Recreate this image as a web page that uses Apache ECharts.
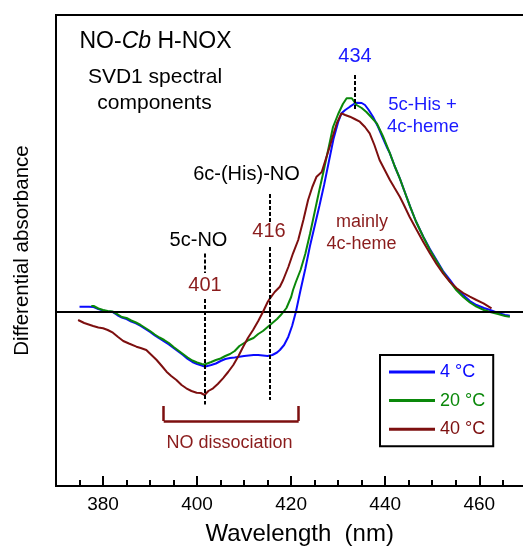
<!DOCTYPE html>
<html>
<head>
<meta charset="utf-8">
<script src="https://cdn.jsdelivr.net/npm/echarts@6/dist/echarts.min.js"></script>
<style>html,body{margin:0;padding:0;background:#fff;}#c{width:523px;height:546px;}</style>
</head>
<body>
<div id="c"></div>
<script>
// ---- data ----
const seriesNames = ['4 °C', '20 °C', '40 °C'];
const xTickLabels = [380, 400, 420, 440, 460];

const wl4 = [375,376,377,378,379,380,381,382,383,384,385,386,387,388,389,390,391,392,393,394,395,396,397,398,399,400,401,401.6,403,404,405,406,407,408,409,410,411,412,413,414,415,416,417,417.6,418.5,419.4,420.2,421,422,423,424,425,426,427,428,429,430,430.7,431.5,432.5,433.5,434,435,435.7,436.5,437.4,438.5,439.5,440.3,441,442,443.1,444,445.3,446.5,448.1,449.5,450.9,452.3,453.8,455,456.6,458,459.4,461,462.3,464,465.5,466.5];
const abs4 = [0.053,0.053,0.053,0.05,0.03,0.015,0.005,0.0,-0.03,-0.055,-0.07,-0.095,-0.113,-0.14,-0.17,-0.2,-0.235,-0.265,-0.295,-0.325,-0.36,-0.395,-0.43,-0.47,-0.5,-0.52,-0.535,-0.547,-0.53,-0.515,-0.49,-0.47,-0.46,-0.455,-0.447,-0.44,-0.435,-0.43,-0.43,-0.435,-0.44,-0.43,-0.405,-0.38,-0.33,-0.247,-0.14,0.0,0.22,0.43,0.66,0.86,1.06,1.27,1.5,1.73,1.9,1.987,2.02,2.053,2.085,2.093,2.09,2.07,2.02,1.953,1.85,1.74,1.653,1.587,1.46,1.337,1.22,1.053,0.91,0.753,0.63,0.52,0.41,0.32,0.24,0.17,0.11,0.07,0.04,0.02,-0.01,-0.03,-0.037];

const wl20 = [377.5,378,379,380,381,382,383,384,385,386,387,388,389,390,391,392,393,394,395,396,397,398,399,400,401,401.6,402,403,404,405,406,407,408,409,410,411,412,413,414,415,416,417,418,419,420,420.4,421,422,423,424,425,426,426.8,428,428.9,430,430.4,431,431.8,432.9,433.9,435,436,437,438.2,439.5,441,442,443.1,444,445.3,446.5,448.1,449.5,450.9,452.3,453.8,455,456.6,458,459.4,461,462.3,464,465.5,466.5];
const abs20 = [0.06,0.06,0.035,0.02,0.01,0.005,-0.02,-0.05,-0.06,-0.085,-0.105,-0.13,-0.16,-0.19,-0.225,-0.255,-0.28,-0.31,-0.35,-0.385,-0.42,-0.455,-0.485,-0.505,-0.52,-0.525,-0.505,-0.5,-0.48,-0.465,-0.44,-0.42,-0.39,-0.34,-0.31,-0.28,-0.26,-0.22,-0.19,-0.15,-0.11,-0.07,-0.02,0.04,0.15,0.22,0.3,0.42,0.58,0.78,1.0,1.22,1.387,1.65,1.85,1.98,2.0,2.08,2.137,2.137,2.07,2.04,2.0,1.95,1.887,1.76,1.587,1.46,1.337,1.22,1.053,0.91,0.75,0.62,0.51,0.4,0.3,0.225,0.15,0.095,0.053,0.02,0.0,-0.02,-0.04,-0.047];

const wl40 = [374.7,376,377.9,379,380,381,382.1,383.2,384.3,385.5,387.1,388,389.2,390.3,391.4,392.5,393.5,394.5,395.6,396.7,397.7,398.8,399.9,400.8,401.6,402.4,403.4,404.4,405.5,406.6,407.7,408.8,409.8,410.8,411.9,413,414,415,415.5,416.5,417.6,418.3,419.4,420.4,421.5,422.6,423.6,424.5,425.4,426.5,427.3,428.2,429,429.7,430.7,431.5,432.5,433.5,434.6,435.7,436.7,437.7,438.8,439.9,441,442,443.1,443.8,445.2,446.7,448.1,449.5,450.9,452.3,453.8,455.2,456.6,458,459.4,460.9,462.6];
const abs40 = [-0.08,-0.11,-0.14,-0.155,-0.163,-0.18,-0.207,-0.25,-0.29,-0.315,-0.347,-0.36,-0.38,-0.43,-0.48,-0.54,-0.597,-0.64,-0.68,-0.73,-0.763,-0.79,-0.807,-0.81,-0.83,-0.79,-0.763,-0.72,-0.663,-0.6,-0.53,-0.44,-0.347,-0.26,-0.18,-0.09,0.0,0.1,0.137,0.2,0.253,0.32,0.45,0.587,0.72,0.92,1.12,1.25,1.353,1.4,1.52,1.653,1.78,1.887,1.987,1.97,1.953,1.93,1.903,1.85,1.787,1.67,1.52,1.42,1.32,1.24,1.153,1.087,0.95,0.82,0.7,0.587,0.48,0.387,0.3,0.237,0.19,0.153,0.12,0.087,0.037];

// annotation positions (data units)
const peakMarks = [401.6, 415.5, 433.6];
const bracketX = [392.9, 421.6];

// ---- styling ----
const FONT = '"Liberation Sans", Arial, Helvetica, sans-serif';
const BLUE = '#0a0aff', GREEN = '#0a880a', RED = '#7d0f0f';
const TBLUE = '#1a1aff', TRED = '#8a1c1c';
const colors = [BLUE, GREEN, RED];

const zip = (xs, ys) => xs.map((x, i) => [x, ys[i]]);

const chart = echarts.init(document.getElementById('c'), null, {renderer: 'canvas'});

const dashStyle = {color: '#000', width: 2, type: [4, 2]};
function vseg(x, y1, y2, style) {
  return [{coord: [x, y1], lineStyle: style}, {coord: [x, y2]}];
}

function txt(text, x, y, size, color, extra) {
  return Object.assign({
    type: 'text', x: x, y: y, z: 50,
    style: {text: text, fill: color, font: size + 'px ' + FONT, align: 'center', verticalAlign: 'middle'}
  }, extra || {});
}

const gridBox = {left: 56, top: 15, width: 470.3, height: 471, outerBoundsMode: 'none', containLabel: false};

const option = {
  animation: false,
  backgroundColor: '#fff',
  grid: [
    Object.assign({show: true, borderColor: '#000', borderWidth: 2, backgroundColor: 'transparent'}, gridBox),
    Object.assign({show: false}, gridBox)
  ],
  xAxis: [{
    gridIndex: 0, type: 'value', min: 370, max: 470, interval: 5, position: 'bottom',
    axisLine: {show: true, onZero: false, lineStyle: {color: '#000', width: 2}},
    axisTick: {show: true, inside: true, length: 6, lineStyle: {color: '#000', width: 2}},
    axisLabel: {
      color: '#000', fontSize: 19, fontFamily: FONT, margin: 9,
      formatter: v => (xTickLabels.indexOf(v) >= 0 ? String(v) : '')
    },
    splitLine: {show: false},
    name: 'Wavelength  (nm)', nameLocation: 'middle', nameGap: 36,
    nameTextStyle: {color: '#000', fontSize: 24, fontFamily: FONT, padding: [0, 0, 0, 17]}
  }, {
    gridIndex: 1, type: 'value', min: 370, max: 470, position: 'bottom',
    axisLine: {show: false, onZero: false},
    axisTick: {show: true, inside: true, length: 10, customValues: xTickLabels, lineStyle: {color: '#000', width: 2}},
    axisLabel: {show: false},
    splitLine: {show: false}
  }],
  yAxis: [{
    gridIndex: 0, type: 'value', min: -1.74, max: 2.97,
    axisLine: {show: true, onZero: false, lineStyle: {color: '#000', width: 2}},
    axisTick: {show: false}, axisLabel: {show: false}, splitLine: {show: false},
    name: 'Differential absorbance', nameLocation: 'middle', nameGap: 23,
    nameTextStyle: {color: '#000', fontSize: 20.5, fontFamily: FONT}
  }, {
    gridIndex: 1, type: 'value', min: -1.74, max: 2.97, show: false
  }],
  legend: {
    left: 380, top: 355, orient: 'vertical',
    data: seriesNames.map((n, i) => ({name: n, textStyle: {color: colors[i]}})),
    icon: 'rect', itemWidth: 46, itemHeight: 3, itemGap: 10.6,
    textStyle: {fontSize: 18, fontFamily: FONT},
    borderColor: '#000', borderWidth: 2, padding: [8, 8, 8, 9],
    backgroundColor: '#fff'
  },
  series: [
    {
      name: seriesNames[0], type: 'line', data: zip(wl4, abs4), color: BLUE,
      showSymbol: false, symbol: 'none', lineStyle: {width: 2, color: BLUE}, z: 3,
      markLine: {
        silent: true, symbol: 'none', label: {show: false},
        lineStyle: {color: '#000', width: 2, type: 'solid'},
        data: [{yAxis: 0}]
      }
    },
    {
      name: seriesNames[1], type: 'line', data: zip(wl20, abs20), color: GREEN,
      showSymbol: false, symbol: 'none', lineStyle: {width: 2, color: GREEN}, z: 4
    },
    {
      name: seriesNames[2], type: 'line', data: zip(wl40, abs40), color: RED,
      showSymbol: false, symbol: 'none', lineStyle: {width: 2, color: RED}, z: 5,
      markLine: {
        silent: true, symbol: 'none', label: {show: false}, z: 10,
        data: [
          vseg(peakMarks[0], 0.585, 0.39, dashStyle),
          vseg(peakMarks[0], 0.13, -0.926, dashStyle),
          vseg(peakMarks[1], 1.18, 0.89, dashStyle),
          vseg(peakMarks[1], 0.65, -0.88, dashStyle),
          vseg(peakMarks[2], 2.37, 2.01, dashStyle),
          [{coord: [bracketX[0], -1.09], lineStyle: {color: RED, width: 2.5, type: 'solid'}}, {coord: [bracketX[1], -1.09]}],
          vseg(bracketX[0], -1.09, -0.94, {color: RED, width: 2.5, type: 'solid'}),
          vseg(bracketX[1], -1.09, -0.94, {color: RED, width: 2.5, type: 'solid'})
        ]
      }
    }
  ],
  graphic: [
    {
      type: 'text', x: 155.5, y: 42, z: 50,
      style: {
        text: '{a|NO-}{b|Cb}{a| H-NOX}', align: 'center', verticalAlign: 'middle',
        rich: {
          a: {font: '23px ' + FONT, fill: '#000'},
          b: {font: 'italic 23px ' + FONT, fill: '#000'}
        }
      }
    },
    txt('SVD1 spectral', 155, 77, 21, '#000'),
    txt('components', 154.5, 103, 21, '#000'),
    txt('434', 355, 56, 20, TBLUE),
    txt('5c-His +', 422.5, 104.5, 18.5, TBLUE),
    txt('4c-heme', 423, 127, 18.5, TBLUE),
    txt('6c-(His)-NO', 246.5, 174, 20, '#000'),
    txt('416', 269, 231.5, 20, TRED),
    txt('5c-NO', 198.5, 240, 20, '#000'),
    txt('401', 205, 285.5, 20, TRED),
    txt('mainly', 362, 222, 18, TRED),
    txt('4c-heme', 361.5, 244, 18, TRED),
    txt('NO dissociation', 229.5, 443.5, 18, TRED)
  ]
};
chart.setOption(option);
</script>
</body>
</html>
